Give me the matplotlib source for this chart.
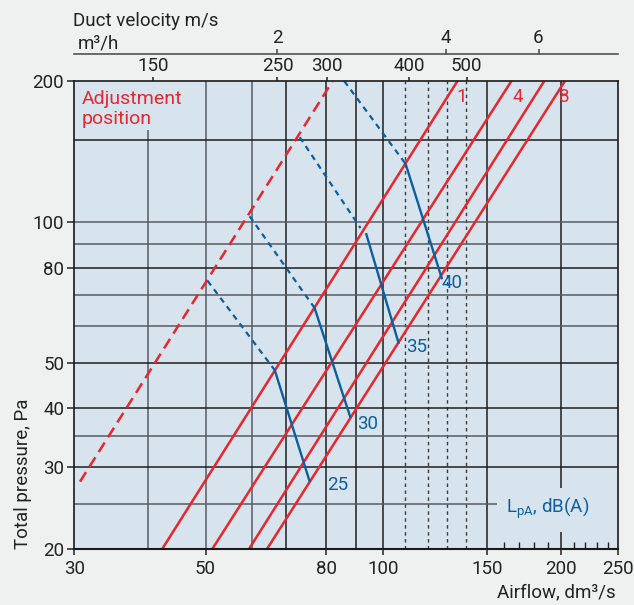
import matplotlib.pyplot as plt
from matplotlib.patches import Rectangle
from matplotlib.ticker import NullLocator, NullFormatter

plt.rcParams['font.family'] = ['Roboto', 'DejaVu Sans']
plt.rcParams['mathtext.fontset'] = 'custom'
plt.rcParams['mathtext.rm'] = 'Roboto'

# --- data (airflow dm3/s, pressure Pa) ---
x_ticks = [30, 50, 80, 100, 150, 200, 250]
x_minor = [160, 170, 180, 190, 210, 220, 230, 240]
y_ticks = [20, 30, 40, 50, 80, 100, 200]

# top scales, placed where the chart puts them (in dm3/s)
m3h_pos = [40.8, 66.2, 80.2, 110.6, 138.5]
m3h_labels = ['150', '250', '300', '400', '500']
vel_pos = [66.2, 127.6, 183.2]
vel_labels = ['2', '4', '6']

# grid
grid_q_dark = [68.5, 80, 90, 100, 150, 200]
grid_q_grey = [40, 50, 60]
grid_q_dotted = [109, 119, 128, 138]
grid_p_dark = [150, 80, 50, 40, 30]
grid_p_grey = [100, 90, 70, 60, 35, 25]

# adjustment position lines: airflow at 20 Pa and at 200 Pa
pos_q_20 = [42.2, 51.3, 59.2, 63.5]
pos_q_200 = [133.4, 164.6, 187.1, 202.8]
pos_labels = ['1', '4', '', '8']
dash_q = [30.65, 82.0]
dash_p = [27.9, 200]

# sound level lines
lpa_levels = ['25', '30', '35', '40']
lpa_dash_q = [[50.4, 65.5], [59.4, 76.5], [72.2, 91.5], [83.8, 109.1]]
lpa_dash_p = [[75.0, 48.3], [103, 65.6], [152, 97.2], [209, 133.3]]
lpa_solid_q = [[65.5, 75.0], [76.5, 87.9], [93.6, 106.1], [109.1, 125.6]]
lpa_solid_p = [[48.3, 28.0], [65.6, 38.4], [94.3, 55.3], [133.3, 76.0]]
lpa_label_q = [83.6, 94.2, 113.8, 131.0]
lpa_label_p = [27.4, 37.1, 54.2, 74.0]

red = '#e8262d'
blue = '#0b5f9e'
bg = '#d7e4ed'
ink = '#222222'
fs = 13.5

fig = plt.figure(figsize=(6.34, 6.05), dpi=100, facecolor='#eff0f0')
ax = fig.add_axes([0.1175, 0.0921, 0.8577, 0.7732])
ax.set_facecolor(bg)
ax.set_xscale('log')
ax.set_yscale('log')
ax.set_xlim(30, 250)
ax.set_ylim(20, 200)

# grid lines
for q in grid_q_dark:
    ax.axvline(q, color='#1e1e1e', lw=1.1, zorder=1)
for q in grid_q_grey:
    ax.axvline(q, color='#585c62', lw=1.1, zorder=1)
for q in grid_q_dotted:
    ax.axvline(q, color='#3a3a3a', lw=1.0, ls=(0, (2.5, 2.5)), zorder=1)
for p in grid_p_dark:
    ax.axhline(p, color='#1e1e1e', lw=1.1, zorder=1)
for p in grid_p_grey:
    ax.axhline(p, color='#585c62', lw=1.1, zorder=1)

# blank areas behind the two labels
ax.add_patch(Rectangle((0, 0.896), 0.216, 0.104, transform=ax.transAxes,
                       fc=bg, ec='none', zorder=1.5))
ax.add_patch(Rectangle((0.777, 0.0364), 0.223, 0.094, transform=ax.transAxes,
                       fc=bg, ec='none', zorder=1.5))

# adjustment position lines
for q1, q2, lab in zip(pos_q_20, pos_q_200, pos_labels):
    ax.plot([q1, q2], [20, 200], color=red, lw=1.8, zorder=3)
ax.plot(dash_q, dash_p, color=red, lw=1.8, ls=(0, (4.5, 2.5)), zorder=3)
ax.text(135.6, 185.5, '1', color=red, fontsize=fs, ha='center', va='center', zorder=4)
ax.text(169.0, 185.5, '4', color=red, fontsize=fs, ha='center', va='center', zorder=4)
ax.text(202.8, 185.5, '8', color=red, fontsize=fs, ha='center', va='center', zorder=4)

# sound level lines
for i, lev in enumerate(lpa_levels):
    ax.plot(lpa_dash_q[i], lpa_dash_p[i], color=blue, lw=1.6,
            ls=(0, (2.6, 2.2)), zorder=3)
    ax.plot(lpa_solid_q[i], lpa_solid_p[i], color=blue, lw=1.7, zorder=3)
    ax.text(lpa_label_q[i], lpa_label_p[i], lev, color=blue, fontsize=fs,
            ha='center', va='center', zorder=4)

ax.text(0.0132, 0.9513, 'Adjustment', transform=ax.transAxes, color=red,
        fontsize=14, ha='left', va='baseline', zorder=4)
ax.text(0.0132, 0.9085, 'position', transform=ax.transAxes, color=red,
        fontsize=14, ha='left', va='baseline', zorder=4)
ax.text(0.7935, 0.0883, r'L$_\mathregular{pA}$, dB(A)', transform=ax.transAxes,
        color=blue, fontsize=fs, ha='left', va='center', zorder=4)

# axes ticks
ax.set_xticks(x_ticks, [str(v) for v in x_ticks])
ax.set_xticks(x_minor, minor=True)
ax.xaxis.set_minor_formatter(NullFormatter())
ax.set_yticks(y_ticks, [str(v) for v in y_ticks])
ax.yaxis.set_minor_locator(NullLocator())
ax.tick_params(axis='x', which='major', direction='out', length=4.5, width=1.1,
               pad=3, labelsize=fs, color=ink, labelcolor=ink)
ax.tick_params(axis='x', which='minor', direction='in', length=5, width=1.0,
               color=ink)
ax.tick_params(axis='y', direction='out', length=5, width=1.1, pad=2.5,
               labelsize=fs, color=ink, labelcolor=ink)
for s in ax.spines.values():
    s.set_color('#1a1a1a')
    s.set_linewidth(1.2)
    s.set_zorder(5)
ax.spines['bottom'].set_linewidth(1.5)

# m3/h scale on top
ax2 = ax.twiny()
ax2.set_xscale('log')
ax2.set_xlim(30, 250)
ax2.set_xticks(m3h_pos, m3h_labels)
ax2.xaxis.set_minor_locator(NullLocator())
ax2.tick_params(axis='x', direction='out', length=3.2, width=1.1, pad=1.5,
                labelsize=fs, color=ink, labelcolor=ink)
for s in ax2.spines.values():
    s.set_visible(False)

# duct velocity scale
ax3 = ax.twiny()
ax3.set_xscale('log')
ax3.set_xlim(30, 250)
ax3.set_xticks(vel_pos, vel_labels)
ax3.xaxis.set_minor_locator(NullLocator())
ax3.spines['top'].set_position(('axes', 1.0581))
ax3.spines['top'].set_color('#444444')
ax3.spines['top'].set_linewidth(1.1)
for k in ['left', 'right', 'bottom']:
    ax3.spines[k].set_visible(False)
ax3.tick_params(axis='x', direction='out', length=3.6, width=1.1, pad=1.9,
                labelsize=fs, color='#444444', labelcolor=ink)

fig.text(73.3 / 634, 1 - 25.7 / 605, 'Duct velocity m/s', fontsize=fs,
         color=ink, ha='left', va='baseline')
fig.text(78 / 634, 1 - 48.3 / 605, 'm³/h', fontsize=fs, color=ink,
         ha='left', va='baseline')
ax.text(-0.0947, 0.0, 'Total pressure, Pa', transform=ax.transAxes,
        rotation=90, fontsize=fs, color=ink, ha='center', va='bottom')
ax.text(0.996, -0.0913, 'Airflow, dm³/s', transform=ax.transAxes,
        fontsize=fs, color=ink, ha='right', va='center')

fig.savefig('out.png', dpi=100, facecolor=fig.get_facecolor())
